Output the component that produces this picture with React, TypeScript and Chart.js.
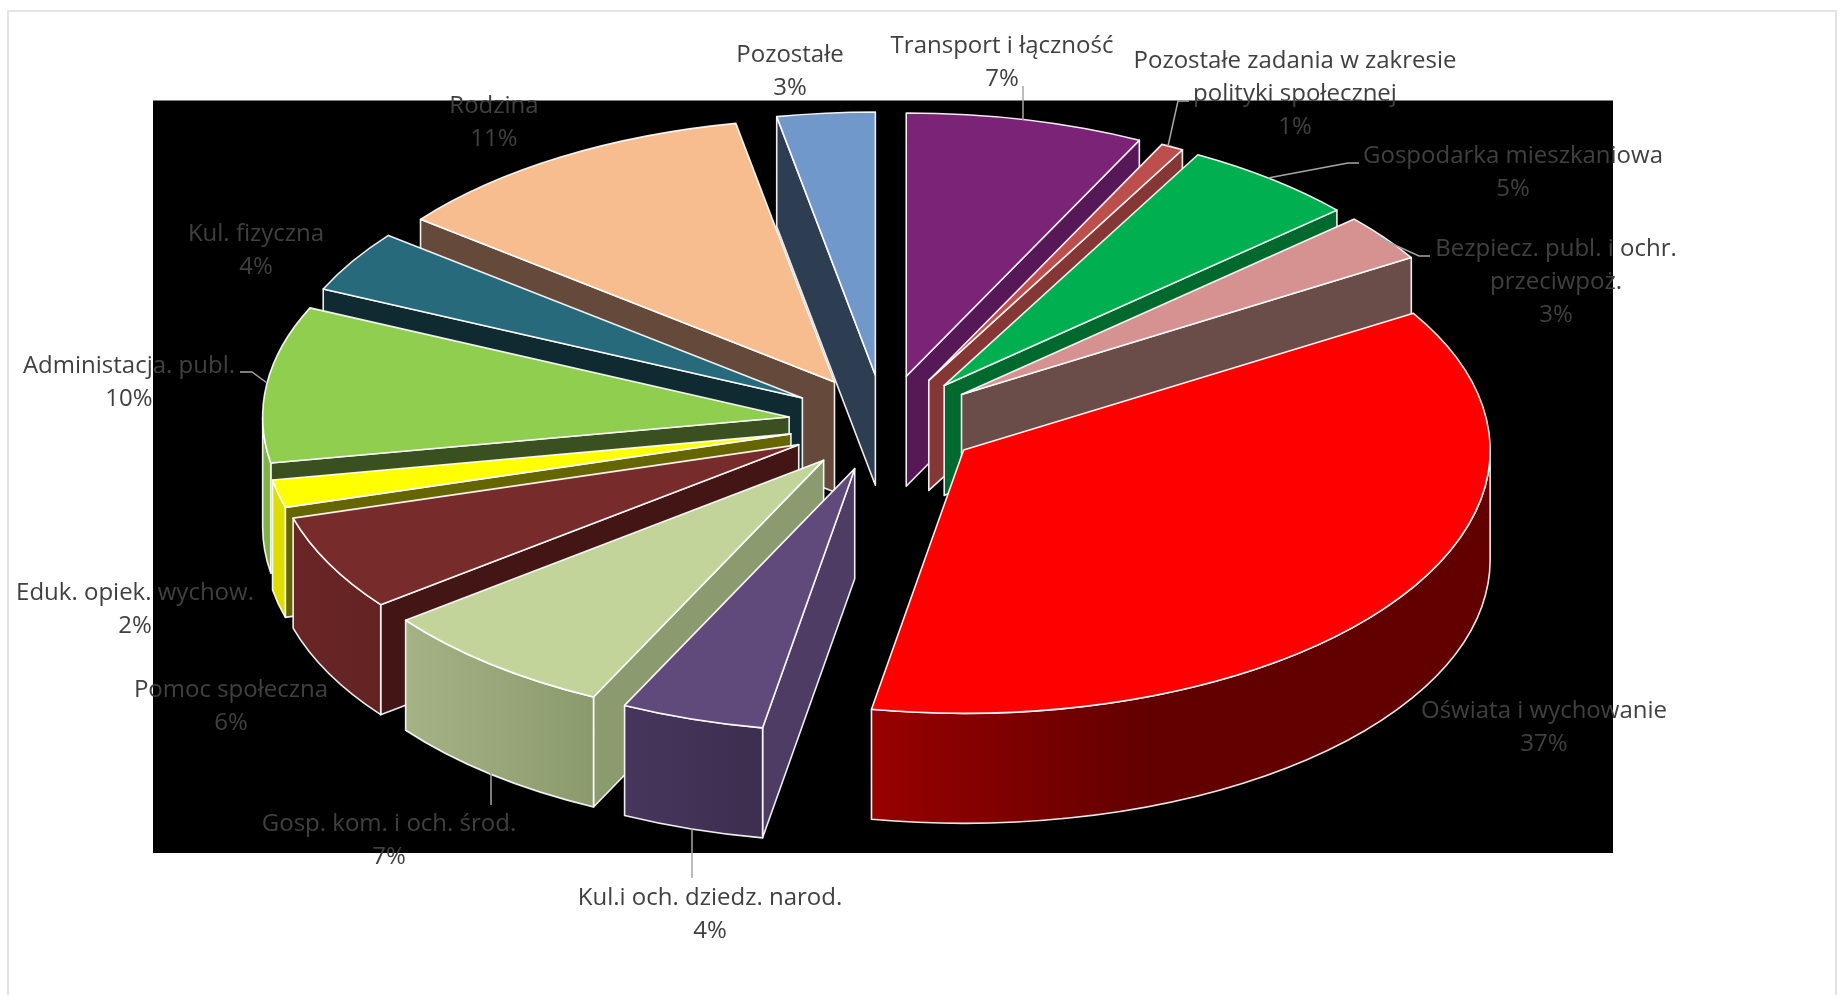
import React, { useEffect, useRef } from "react";
import { Chart, registerables } from "chart.js";

Chart.register(...registerables);

const categories = [
  "Transport i łączność",
  "Pozostałe zadania w zakresie polityki społecznej",
  "Gospodarka mieszkaniowa",
  "Bezpiecz. publ. i ochr. przeciwpoż.",
  "Oświata i wychowanie",
  "Kul.i och. dziedz. narod.",
  "Gosp. kom. i och. środ.",
  "Pomoc społeczna",
  "Eduk. opiek. wychow.",
  "Administacja. publ.",
  "Kul. fizyczna",
  "Rodzina",
  "Pozostałe",
];
const shares = [7.3, 0.7, 5.4, 2.9, 36.5, 4.4, 7.4, 5.9, 1.7, 9.6, 3.8, 11.4, 3.0];
const topColors = ["#7b2377", "#bc4f4b", "#00b050", "#d69291", "#ff0000", "#604a7b", "#c2d49a", "#772b2b", "#ffff00", "#90ce50", "#276a7c", "#f7bd8e", "#7198ca"];
const cutColors = ["#561857", "#843734", "#006a2e", "#6a4c49", "#660000", "#4e3c65", "#8b9a6f", "#431515", "#666600", "#3a5020", "#102a32", "#65493a", "#2d3d52"];
const rimLeft = ["#561857", "#843734", "#006a2e", "#6a4c49", "#990000", "#46365c", "#a5b285", "#6a2525", "#dddd00", "#7eb445", "#102a32", "#65493a", "#2d3d52"];
const rimRight = ["#561857", "#843734", "#006a2e", "#6a4c49", "#620000", "#3d2e50", "#8b9a6c", "#642323", "#dddd00", "#7eb445", "#102a32", "#65493a", "#2d3d52"];
const labelLines = [
  ["Transport i łączność", "7%"],
  ["Pozostałe zadania w zakresie", "polityki społecznej", "1%"],
  ["Gospodarka mieszkaniowa", "5%"],
  ["Bezpiecz. publ. i ochr.", "przeciwpoż.", "3%"],
  ["Oświata i wychowanie", "37%"],
  ["Kul.i och. dziedz. narod.", "4%"],
  ["Gosp. kom. i och. środ.", "7%"],
  ["Pomoc społeczna", "6%"],
  ["Eduk. opiek. wychow.", "2%"],
  ["Administacja. publ.", "10%"],
  ["Kul. fizyczna", "4%"],
  ["Rodzina", "11%"],
  ["Pozostałe", "3%"],
];
const labelX = [1002, 1295, 1513, 1556, 1544, 710, 389, 231, 135, 129, 256, 494, 790];
const labelY = [46.5, 61.5, 156.5, 249.5, 711, 898, 824, 690, 593.5, 366, 234.5, 106.5, 55];
const leaders: number[][][] = [
  [[1023, 86], [1023, 120]],
  [[1189, 101], [1178, 101], [1168, 146]],
  [[1359, 163], [1348, 163], [1268, 178]],
  [[1430, 256], [1419, 256], [1377, 237]],
  [],
  [[692, 828], [692, 878]],
  [[491, 773], [491, 805]],
  [],
  [],
  [[240, 372], [252, 372], [267, 383]],
  [],
  [],
  [],
];

const W = 1844;
const H = 995;
const CX = 884.4;
const CY = 423;
const RADIUS = 526.5;
const TILT = 0.5;
const DEPTH = 110;
const EXPLODE = 96;
const PLOT = { l: 153, t: 100.5, r: 1613, b: 853 };
const FONT = '24px "Open Sans"';
const LINE_H = 33;

const pie3d = {
  id: "pie3d",
  beforeDraw(chart: any) {
    const { ctx } = chart;
    ctx.save();
    ctx.fillStyle = "#000000";
    ctx.fillRect(PLOT.l, PLOT.t, PLOT.r - PLOT.l, PLOT.b - PLOT.t);
    ctx.restore();
  },
  beforeDatasetsDraw(chart: any) {
    const { ctx } = chart;
    const meta = chart.getDatasetMeta(0);
    const arcs = meta.data.map((arc: any, i: number) => ({ arc, i }));
    const midOf = (a: any) => (a.startAngle + a.endAngle) / 2;
    arcs.sort((p: any, q: any) => Math.sin(midOf(p.arc)) - Math.sin(midOf(q.arc)));
    ctx.save();
    ctx.lineJoin = "round";
    ctx.lineWidth = 1.6;
    ctx.strokeStyle = "rgba(255,255,255,0.92)";
    for (const { arc, i } of arcs) {
      const { x, y, startAngle: a0, endAngle: a1, outerRadius: R } = arc;
      const mid = midOf(arc);
      const ox = x + EXPLODE * Math.cos(mid);
      const oy = y + EXPLODE * TILT * Math.sin(mid);
      const px = (a: number) => ox + R * Math.cos(a);
      const py = (a: number) => oy + R * TILT * Math.sin(a);

      // radial cut walls
      const wall = (a: number, normal: number) => {
        if (Math.sin(normal) <= 0.001) return;
        ctx.beginPath();
        ctx.moveTo(ox, oy);
        ctx.lineTo(px(a), py(a));
        ctx.lineTo(px(a), py(a) + DEPTH);
        ctx.lineTo(ox, oy + DEPTH);
        ctx.closePath();
        ctx.fillStyle = cutColors[i];
        ctx.fill();
        ctx.stroke();
      };
      wall(a0, a0 - Math.PI / 2);
      wall(a1, a1 + Math.PI / 2);

      // outer rim, the front half only
      const lo = Math.max(a0, 0);
      const hi = Math.min(a1, Math.PI);
      if (hi > lo) {
        const grad = ctx.createLinearGradient(px(hi), 0, px(lo), 0);
        grad.addColorStop(0, rimLeft[i]);
        grad.addColorStop(i === 4 ? 0.45 : 1, rimRight[i]);
        grad.addColorStop(1, rimRight[i]);
        ctx.beginPath();
        ctx.ellipse(ox, oy, R, R * TILT, 0, lo, hi, false);
        ctx.lineTo(px(hi), py(hi) + DEPTH);
        ctx.ellipse(ox, oy + DEPTH, R, R * TILT, 0, hi, lo, true);
        ctx.closePath();
        ctx.fillStyle = grad;
        ctx.fill();
        ctx.stroke();
      }

      // top face
      ctx.beginPath();
      ctx.moveTo(ox, oy);
      ctx.ellipse(ox, oy, R, R * TILT, 0, a0, a1, false);
      ctx.closePath();
      ctx.fillStyle = arc.options.backgroundColor;
      ctx.fill();
      ctx.stroke();
    }
    ctx.restore();
    return false;
  },
  afterDraw(chart: any) {
    const { ctx } = chart;
    ctx.save();
    ctx.strokeStyle = "#a6a6a6";
    ctx.lineWidth = 1.5;
    for (const pts of leaders) {
      if (!pts.length) continue;
      ctx.beginPath();
      pts.forEach(([px, py], k) => (k ? ctx.lineTo(px, py) : ctx.moveTo(px, py)));
      ctx.stroke();
    }
    ctx.fillStyle = "#404040";
    ctx.font = FONT;
    ctx.textAlign = "center";
    ctx.textBaseline = "middle";
    labelLines.forEach((lines, i) => {
      lines.forEach((t, k) => ctx.fillText(t, labelX[i], labelY[i] + k * LINE_H));
    });
    ctx.restore();
  },
};

export default function App() {
  const ref = useRef<HTMLCanvasElement>(null);
  useEffect(() => {
    document.body.style.margin = "0";
    const chart = new Chart(ref.current!, {
      type: "pie",
      data: {
        labels: categories,
        datasets: [{ data: shares, backgroundColor: topColors, borderColor: "#ffffff" }],
      },
      options: {
        responsive: false,
        animation: false,
        radius: RADIUS,
        layout: { padding: { left: 0, top: 0, right: W - 2 * CX, bottom: H - 2 * CY } },
        plugins: { legend: { display: false }, tooltip: { enabled: false }, title: { display: false } },
      },
      plugins: [pie3d],
    } as any);
    return () => chart.destroy();
  }, []);
  return (
    <div style={{ position: "relative", width: W, height: H, overflow: "hidden", background: "#ffffff" }}>
      <canvas ref={ref} width={W} height={H} style={{ display: "block" }} />
      <div style={{ position: "absolute", left: 7, top: 10, width: 1830, height: 1000, border: "2px solid #e3e3e3", boxSizing: "border-box", pointerEvents: "none" }} />
    </div>
  );
}
